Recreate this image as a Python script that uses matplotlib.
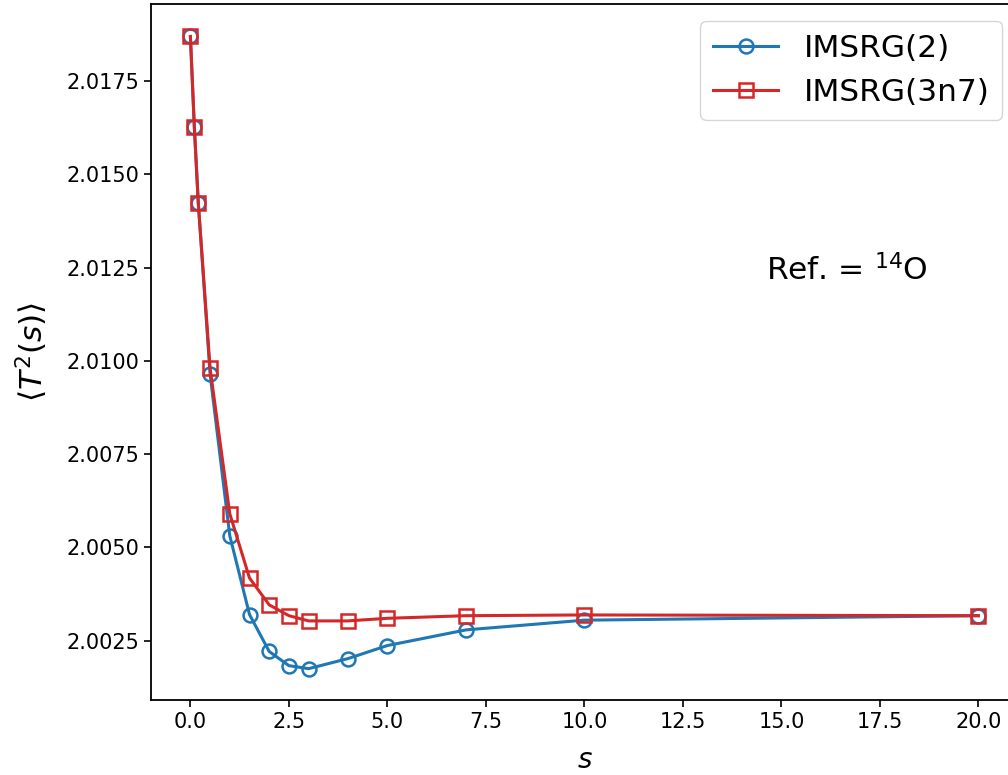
import matplotlib
matplotlib.use("Agg")
import matplotlib.pyplot as plt

s = [0, 0.1, 0.2, 0.5, 1, 1.5, 2, 2.5, 3, 4, 5, 7, 10, 20]
imsrg2 = [2.0187, 2.01627, 2.01424, 2.00964, 2.00531, 2.00320, 2.00221, 2.00183,
          2.00175, 2.00202, 2.00237, 2.00279, 2.00305, 2.00317]
imsrg3n7 = [2.0187, 2.01627, 2.01424, 2.00980, 2.00590, 2.00418, 2.00346, 2.00317,
            2.00303, 2.00303, 2.00310, 2.00317, 2.00319, 2.00317]

fig = plt.figure(figsize=(10.08, 7.75), dpi=100)
ax = fig.add_axes([0.1498, 0.0968, 0.860, 0.898])

ax.plot(s, imsrg2, color="#1f77b4", marker="o", markersize=10, markerfacecolor="none",
        markeredgewidth=1.8, linewidth=2.2, label="IMSRG(2)")
ax.plot(s, imsrg3n7, color="#d62728", marker="s", markersize=10, markerfacecolor="none",
        markeredgewidth=1.8, linewidth=2.2, label="IMSRG(3n7)")

ax.set_xlim(-1, 21)
ax.set_ylim(2.00091, 2.01957)
ax.set_yticks([2.0025, 2.0050, 2.0075, 2.0100, 2.0125, 2.0150, 2.0175])
ax.set_xticks([0, 2.5, 5, 7.5, 10, 12.5, 15, 17.5, 20])
ax.set_xticklabels(["0.0", "2.5", "5.0", "7.5", "10.0", "12.5", "15.0", "17.5", "20.0"])
ax.set_yticklabels(["2.0025", "2.0050", "2.0075", "2.0100", "2.0125", "2.0150", "2.0175"])
ax.tick_params(labelsize=15, length=5, width=1.2)
for sp in ax.spines.values():
    sp.set_linewidth(1.3)

ax.set_xlabel("$s$", fontsize=20, labelpad=10)
ax.set_ylabel(r"$\langle T^2(s)\rangle$", fontsize=22.5, labelpad=12)

ax.text(0.709, 0.618, r"Ref. = $^{14}$O", transform=ax.transAxes, fontsize=22.5,
        va="center", ha="left")

ax.legend(loc="upper right", bbox_to_anchor=(0.9815, 0.9756), borderaxespad=0,
          fontsize=22.5, handlelength=2.1)

fig.savefig("out.png", dpi=100)
